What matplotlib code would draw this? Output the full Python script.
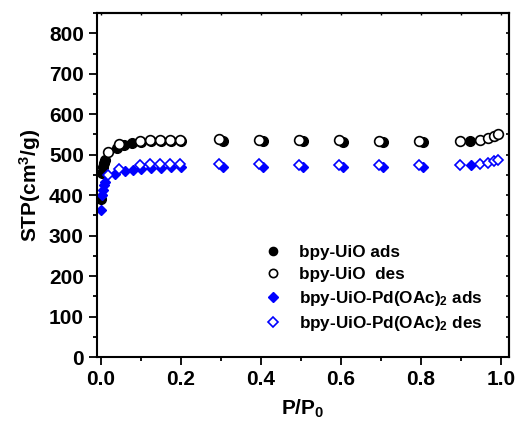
import matplotlib
matplotlib.use("Agg")
import matplotlib.pyplot as plt
from matplotlib.ticker import MultipleLocator

plt.rcParams['font.family'] = ['Liberation Sans', 'DejaVu Sans']
plt.rcParams['font.weight'] = 'bold'
plt.rcParams['mathtext.fontset'] = 'custom'
plt.rcParams['mathtext.rm'] = 'Liberation Sans:bold'
plt.rcParams['mathtext.it'] = 'Liberation Sans:bold'
plt.rcParams['mathtext.bf'] = 'Liberation Sans:bold'

# bpy-UiO
uio_ads_x = [0.001, 0.003, 0.005, 0.007, 0.010, 0.039, 0.058, 0.077, 0.100, 0.125,
             0.150, 0.175, 0.200, 0.305, 0.405, 0.505, 0.605, 0.705, 0.805, 0.924]
uio_ads_y = [390, 454, 470, 479, 486, 516, 525, 528, 531, 533,
             534, 535, 535, 533, 533, 533, 532, 532, 532, 534]
uio_des_x = [0.018, 0.045, 0.0975, 0.1225, 0.1475, 0.1725, 0.1975, 0.295, 0.395,
             0.495, 0.595, 0.695, 0.795, 0.897, 0.947, 0.968, 0.983, 0.993]
uio_des_y = [507, 526, 535, 536, 537, 537, 537, 538, 537,
             536, 536, 535, 535, 535, 537, 541, 545, 550]

# bpy-UiO-Pd(OAc)2
pd_ads_x = [0.001, 0.003, 0.005, 0.007, 0.010, 0.035, 0.060, 0.080, 0.100, 0.125,
            0.150, 0.175, 0.200, 0.305, 0.405, 0.505, 0.605, 0.705, 0.805, 0.925]
pd_ads_y = [363, 400, 412, 425, 433, 453, 459, 462, 465, 467,
            468, 469, 470, 469, 469, 469, 469, 469, 469, 474]
pd_des_x = uio_des_x
pd_des_y = [449, 464, 474, 476, 477, 477, 477, 477, 476,
            475, 475, 475, 475, 475, 477, 480, 484, 488]

fig = plt.figure(figsize=(5.17, 4.21), dpi=100)
ax = fig.add_axes([0.1876, 0.152, 0.7964, 0.817])

ax.plot(uio_ads_x, uio_ads_y, 'o', color='black', ms=7, mec='black',
        label='bpy-UiO ads', zorder=2)
ax.plot(uio_des_x, uio_des_y, 'o', mfc='white', mec='black', ms=7, mew=1.2,
        label='bpy-UiO  des', zorder=3)
ax.plot(pd_ads_x, pd_ads_y, 'D', color='blue', mec='blue', ms=5.5,
        label='bpy-UiO-Pd(OAc)$_2$ ads', zorder=2)
ax.plot(pd_des_x, pd_des_y, 'D', mfc='white', mec='blue', ms=5.5, mew=1.2,
        label='bpy-UiO-Pd(OAc)$_2$ des', zorder=3)

ax.set_xlim(-0.01, 1.02)
ax.set_ylim(0, 850)
ax.xaxis.set_major_locator(MultipleLocator(0.2))
ax.xaxis.set_minor_locator(MultipleLocator(0.1))
ax.yaxis.set_major_locator(MultipleLocator(100))
ax.yaxis.set_minor_locator(MultipleLocator(50))

ax.tick_params(which='both', direction='out', labelsize=15, width=1.3,
               top=False, right=False)
ax.tick_params(which='major', length=6)
ax.tick_params(which='minor', length=3)
for lab in ax.get_xticklabels() + ax.get_yticklabels():
    lab.set_fontweight('bold')

# small inward ticks on the right and top frame
ax2 = ax.secondary_yaxis('right')
ax2.yaxis.set_major_locator(MultipleLocator(50))
ax2.tick_params(which='both', direction='in', labelright=False, width=1.2, length=2.5)
ax3 = ax.secondary_xaxis('top')
ax3.xaxis.set_major_locator(MultipleLocator(0.1))
ax3.tick_params(which='both', direction='in', labeltop=False, width=1.0, length=1.5)

for s in ax.spines.values():
    s.set_linewidth(1.5)
ax2.spines['right'].set_linewidth(1.5)
ax3.spines['top'].set_linewidth(1.5)

ax.set_xlabel('P/P$_0$', fontsize=15, fontweight='bold', labelpad=6)
ax.set_ylabel('STP(cm$^3$/g)', fontsize=15, fontweight='bold', labelpad=4)

ax.legend(loc='upper left', bbox_to_anchor=(0.407, 0.326), frameon=False,
          handlelength=1.0, handletextpad=1.0, labelspacing=0.4,
          borderpad=0, borderaxespad=0, markerscale=0.85,
          prop={'weight': 'bold', 'size': 12.3})

fig.savefig('out.png', dpi=100)
